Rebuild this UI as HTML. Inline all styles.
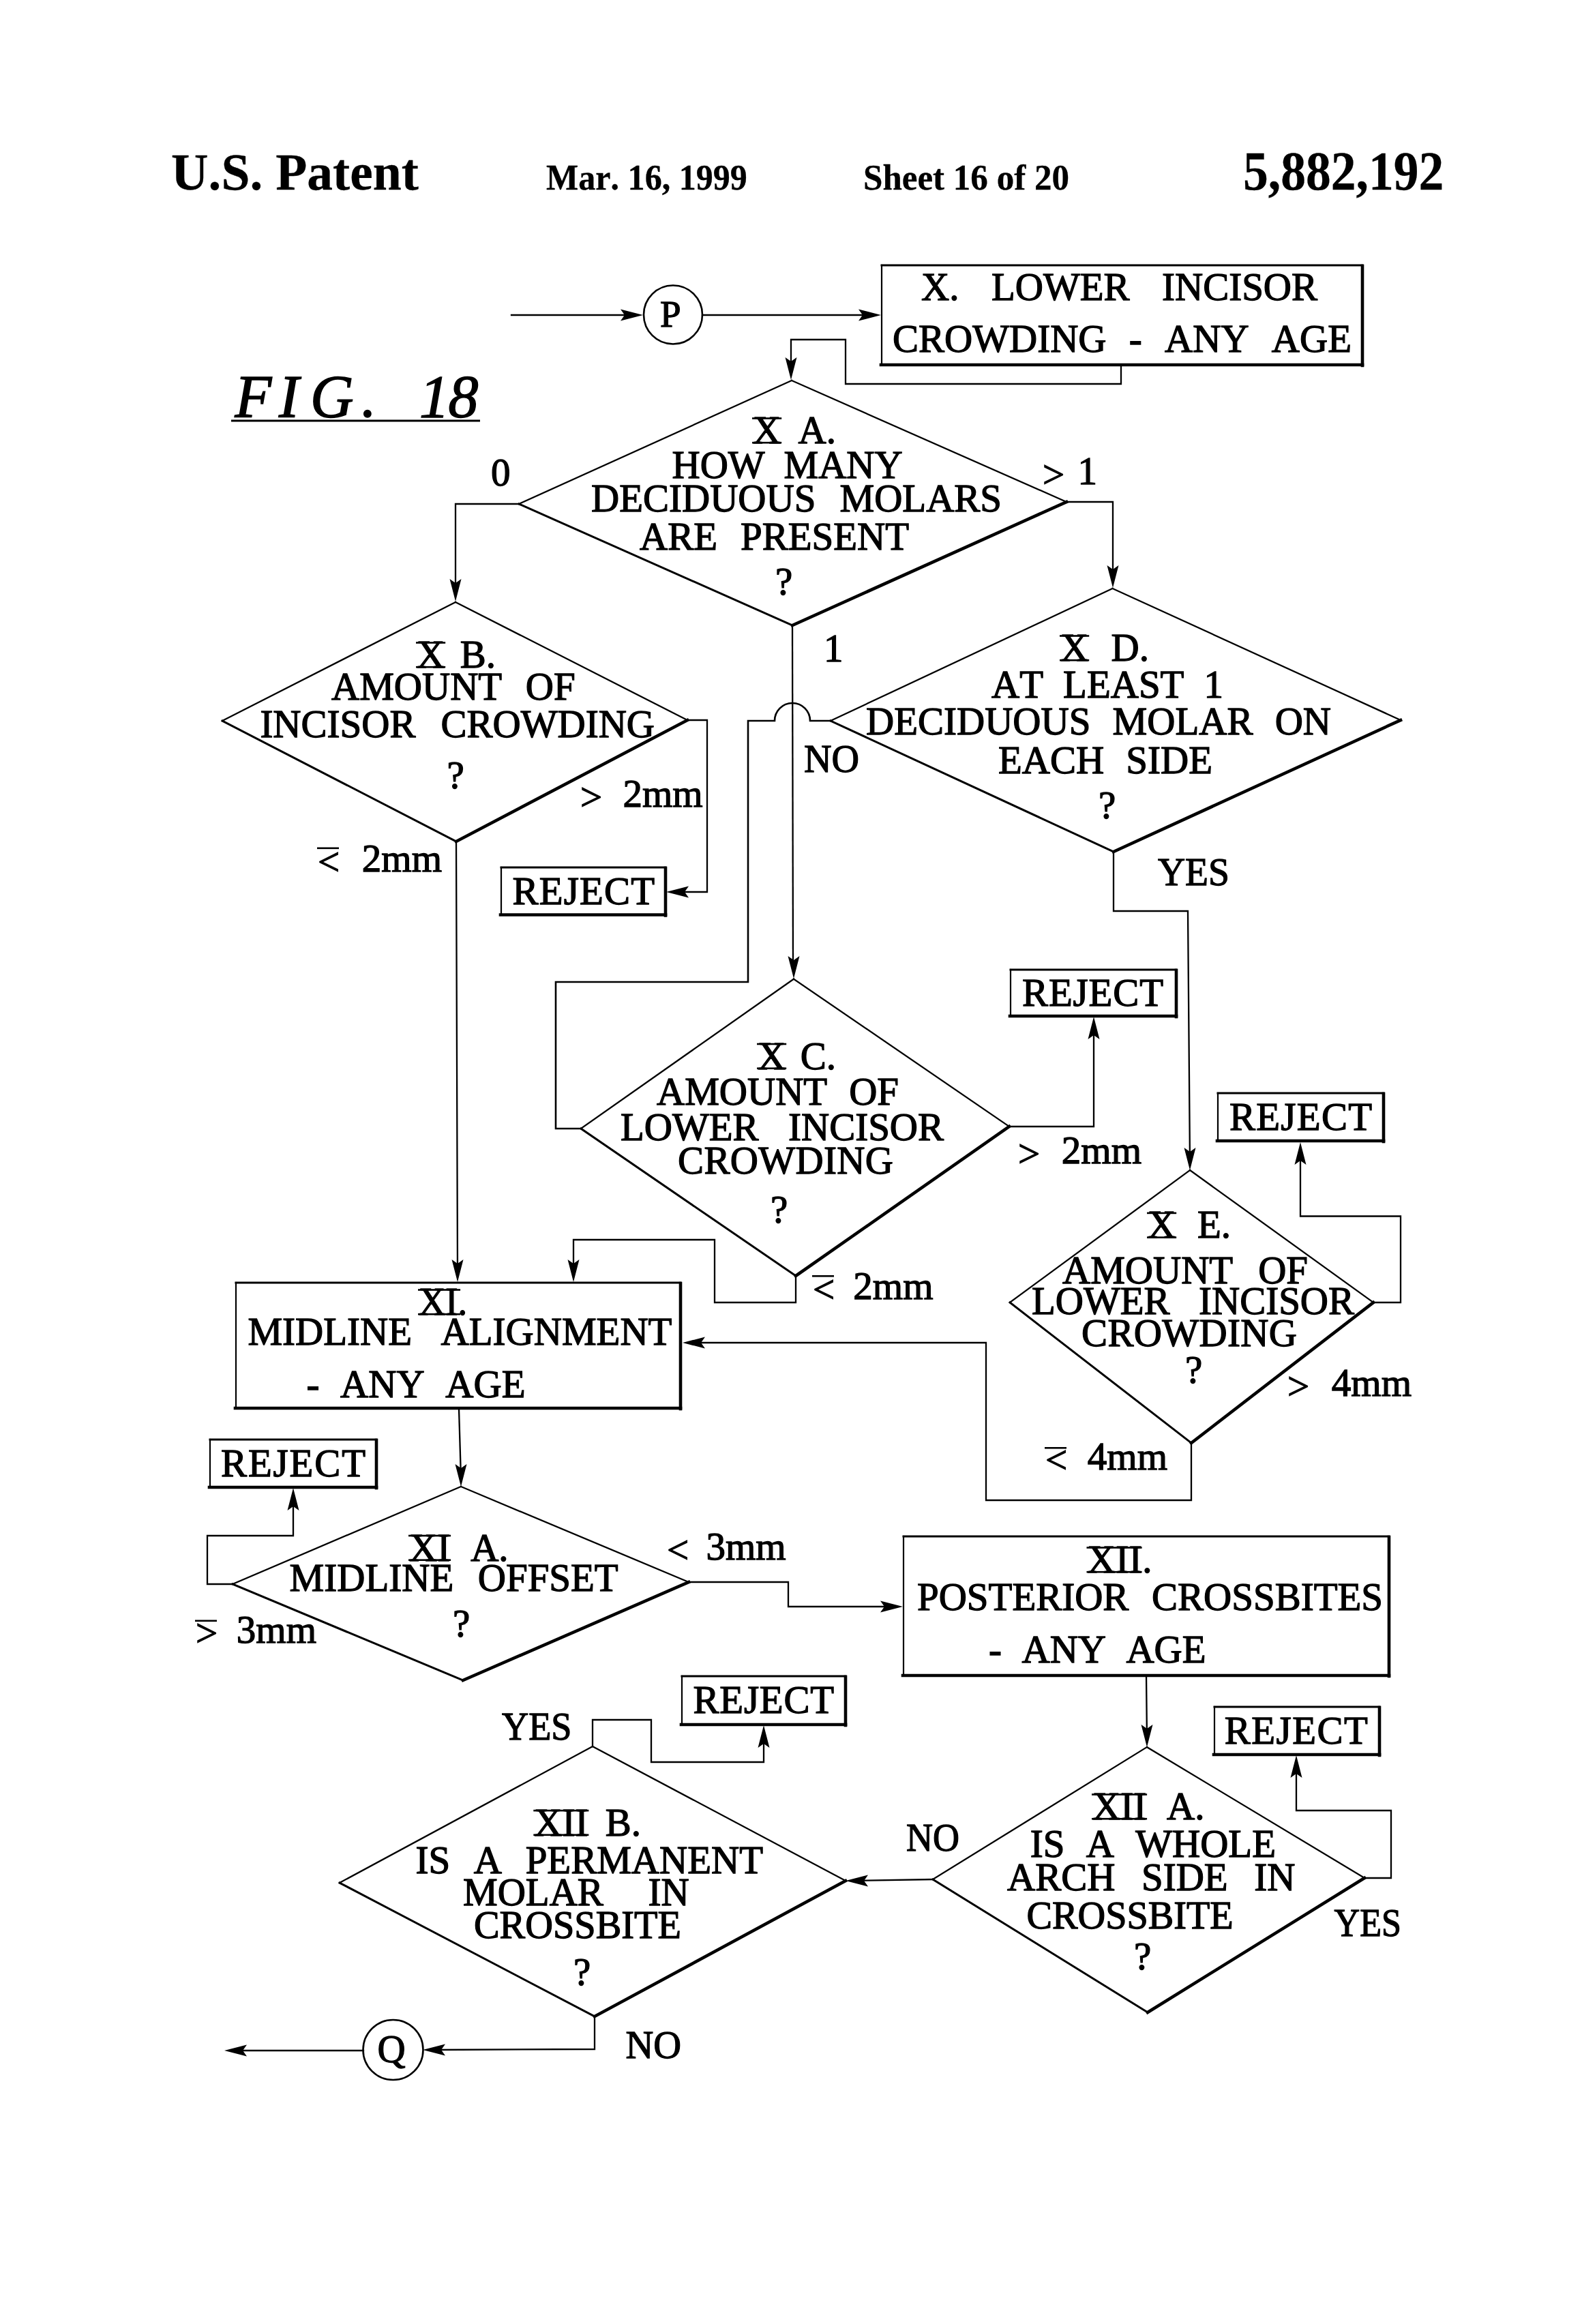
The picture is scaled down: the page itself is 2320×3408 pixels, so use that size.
<!DOCTYPE html>
<html><head><meta charset="utf-8"><style>
html,body{margin:0;padding:0;background:#fff;}
svg{display:block;}
path,circle{fill:none;stroke:#000;stroke-linecap:square;stroke-linejoin:miter;}
.f{fill:#000;stroke:none;}
text{fill:#000;stroke:#000;stroke-width:1.3px;font-family:"Liberation Serif",serif;font-kerning:none;}
.tb{font-weight:bold;stroke-width:0.3px;}
.ti{font-style:italic;}
</style></head><body>
<svg width="2320" height="3408" viewBox="0 0 2320 3408">
<rect width="2320" height="3408" fill="#fff"/>
<rect class="f" x="339" y="615.5" width="365" height="3"/>
<path d="M750.0 462.0 L930.0 462.0" stroke-width="2.3"/>
<polygon class="f" points="943.0,462.0 910.0,453.5 916.0,462.0 910.0,470.5"/>
<circle cx="987" cy="461.5" r="43" stroke-width="2.6"/>
<path d="M1030.0 462.0 L1280.0 462.0" stroke-width="2.3"/>
<polygon class="f" points="1292.0,462.0 1259.0,453.5 1265.0,462.0 1259.0,470.5"/>
<path d="M1293.0 389.0 L1998.0 389.0" stroke-width="3.0"/>
<path d="M1293.0 389.0 L1293.0 535.0" stroke-width="2.2"/>
<path d="M1292.0 535.0 L1998.0 535.0" stroke-width="4.6"/>
<path d="M1998.0 390.0 L1998.0 536.0" stroke-width="4.6"/>
<path d="M1644.0 535.0 L1644.0 563.0 L1240.0 563.0 L1240.0 498.0 L1160.0 498.0 L1160.0 540.0" stroke-width="2.3"/>
<polygon class="f" points="1160.0,557.0 1151.5,524.0 1160.0,530.0 1168.5,524.0"/>
<path d="M761.0 739.0 L1161.0 558.0" stroke-width="2.3"/>
<path d="M1161.0 558.0 L1564.0 736.0" stroke-width="2.3"/>
<path d="M761.0 739.0 L1162.0 917.0" stroke-width="3.0"/>
<path d="M1162.0 917.0 L1564.0 736.0" stroke-width="4.6"/>
<rect class="f" x="1103.0" y="612.2" width="43.2" height="2.6"/>
<rect class="f" x="1103.0" y="647.9" width="43.2" height="2.6"/>
<path d="M761.0 739.0 L668.0 739.0 L668.0 870.0" stroke-width="2.3"/>
<polygon class="f" points="668.0,882.0 659.5,849.0 668.0,855.0 676.5,849.0"/>
<path d="M1564.0 736.0 L1632.0 736.0 L1632.0 850.0" stroke-width="2.3"/>
<polygon class="f" points="1632.0,862.0 1623.5,829.0 1632.0,835.0 1640.5,829.0"/>
<path d="M326.0 1057.0 L668.0 883.0" stroke-width="2.3"/>
<path d="M668.0 883.0 L1008.0 1056.0" stroke-width="2.3"/>
<path d="M326.0 1057.0 L669.0 1234.0" stroke-width="3.0"/>
<path d="M669.0 1234.0 L1008.0 1056.0" stroke-width="4.6"/>
<rect class="f" x="610.0" y="941.2" width="43.2" height="2.6"/>
<rect class="f" x="610.0" y="976.9" width="43.2" height="2.6"/>
<rect class="f" x="465.0" y="1242.5" width="32.0" height="2.6"/>
<path d="M1008.0 1056.0 L1037.0 1056.0 L1037.0 1308.0 L990.0 1308.0" stroke-width="2.3"/>
<polygon class="f" points="977.0,1308.0 1010.0,1299.5 1004.0,1308.0 1010.0,1316.5"/>
<path d="M735.0 1272.0 L976.0 1272.0" stroke-width="3.0"/>
<path d="M735.0 1272.0 L735.0 1341.5" stroke-width="2.2"/>
<path d="M734.0 1341.5 L976.0 1341.5" stroke-width="4.6"/>
<path d="M976.0 1273.0 L976.0 1342.5" stroke-width="4.6"/>
<path d="M669.0 1234.0 L671.0 1868.0" stroke-width="2.3"/>
<polygon class="f" points="671.0,1880.0 662.5,1847.0 671.0,1853.0 679.5,1847.0"/>
<path d="M1218.0 1057.0 L1631.5 863.0" stroke-width="2.3"/>
<path d="M1631.5 863.0 L2054.0 1056.0" stroke-width="2.3"/>
<path d="M1218.0 1057.0 L1633.0 1249.0" stroke-width="3.0"/>
<path d="M1633.0 1249.0 L2054.0 1056.0" stroke-width="4.6"/>
<rect class="f" x="1554.0" y="931.2" width="43.2" height="2.6"/>
<rect class="f" x="1554.0" y="966.9" width="43.2" height="2.6"/>
<path d="M1218 1057 L1190 1057 L1188 1057 A26 26 0 0 0 1136 1057 L1097 1057 L1097 1440 L815 1440 L815 1655 L852 1655" stroke-width="2.6"/>
<path d="M1633.0 1249.0 L1633.0 1336.0 L1742.0 1336.0 L1745.0 1704.0" stroke-width="2.3"/>
<polygon class="f" points="1745.0,1716.0 1736.5,1683.0 1745.0,1689.0 1753.5,1683.0"/>
<path d="M1162.0 917.0 L1163.0 1423.0" stroke-width="2.3"/>
<polygon class="f" points="1164.0,1435.0 1155.5,1402.0 1164.0,1408.0 1172.5,1402.0"/>
<path d="M852.0 1655.0 L1164.0 1435.6" stroke-width="2.3"/>
<path d="M1164.0 1435.6 L1480.0 1652.0" stroke-width="2.3"/>
<path d="M852.0 1655.0 L1167.0 1871.0" stroke-width="3.0"/>
<path d="M1167.0 1871.0 L1480.0 1652.0" stroke-width="4.6"/>
<rect class="f" x="1110.0" y="1529.7" width="43.2" height="2.6"/>
<rect class="f" x="1110.0" y="1565.4" width="43.2" height="2.6"/>
<rect class="f" x="1191.0" y="1870.0" width="32.0" height="2.6"/>
<path d="M1480.0 1652.0 L1604.0 1652.0 L1604.0 1503.0" stroke-width="2.3"/>
<polygon class="f" points="1604.0,1491.0 1595.5,1524.0 1604.0,1518.0 1612.5,1524.0"/>
<path d="M1482.0 1422.0 L1725.0 1422.0" stroke-width="3.0"/>
<path d="M1482.0 1422.0 L1482.0 1490.0" stroke-width="2.2"/>
<path d="M1481.0 1490.0 L1725.0 1490.0" stroke-width="4.6"/>
<path d="M1725.0 1423.0 L1725.0 1491.0" stroke-width="4.6"/>
<path d="M1167.0 1871.0 L1167.0 1910.0 L1048.0 1910.0 L1048.0 1818.0 L841.0 1818.0 L841.0 1868.0" stroke-width="2.3"/>
<polygon class="f" points="841.0,1880.0 832.5,1847.0 841.0,1853.0 849.5,1847.0"/>
<path d="M1481.0 1910.0 L1745.0 1716.0" stroke-width="2.3"/>
<path d="M1745.0 1716.0 L2014.0 1910.0" stroke-width="2.3"/>
<path d="M1481.0 1910.0 L1747.0 2116.0" stroke-width="3.0"/>
<path d="M1747.0 2116.0 L2014.0 1910.0" stroke-width="4.6"/>
<rect class="f" x="1682.0" y="1777.6" width="43.2" height="2.6"/>
<rect class="f" x="1682.0" y="1813.3" width="43.2" height="2.6"/>
<rect class="f" x="1532.0" y="2122.0" width="32.0" height="2.6"/>
<path d="M2014.0 1910.0 L2054.0 1910.0 L2054.0 1783.5 L1907.0 1783.5 L1907.0 1687.0" stroke-width="2.3"/>
<polygon class="f" points="1907.0,1675.0 1898.5,1708.0 1907.0,1702.0 1915.5,1708.0"/>
<path d="M1786.0 1603.0 L2029.0 1603.0" stroke-width="3.0"/>
<path d="M1786.0 1603.0 L1786.0 1673.0" stroke-width="2.2"/>
<path d="M1785.0 1673.0 L2029.0 1673.0" stroke-width="4.6"/>
<path d="M2029.0 1604.0 L2029.0 1674.0" stroke-width="4.6"/>
<path d="M1747.0 2116.0 L1747.0 2200.0 L1446.0 2200.0 L1446.0 1969.0 L1013.0 1969.0" stroke-width="2.3"/>
<polygon class="f" points="1001.0,1969.0 1034.0,1960.5 1028.0,1969.0 1034.0,1977.5"/>
<path d="M346.0 1881.0 L998.0 1881.0" stroke-width="3.0"/>
<path d="M346.0 1881.0 L346.0 2065.0" stroke-width="2.2"/>
<path d="M345.0 2065.0 L998.0 2065.0" stroke-width="4.6"/>
<path d="M998.0 1882.0 L998.0 2066.0" stroke-width="4.6"/>
<rect class="f" x="613.0" y="1890.2" width="62.1" height="2.6"/>
<rect class="f" x="613.0" y="1925.9" width="62.1" height="2.6"/>
<path d="M673.0 2066.0 L676.0 2168.0" stroke-width="2.3"/>
<polygon class="f" points="676.0,2180.0 667.5,2147.0 676.0,2153.0 684.5,2147.0"/>
<path d="M341.0 2323.0 L676.0 2180.0" stroke-width="2.3"/>
<path d="M676.0 2180.0 L1010.0 2320.0" stroke-width="2.3"/>
<path d="M341.0 2323.0 L679.0 2464.0" stroke-width="3.0"/>
<path d="M679.0 2464.0 L1010.0 2320.0" stroke-width="4.6"/>
<rect class="f" x="599.0" y="2250.7" width="62.1" height="2.6"/>
<rect class="f" x="599.0" y="2286.4" width="62.1" height="2.6"/>
<rect class="f" x="286.0" y="2375.5" width="32.0" height="2.6"/>
<path d="M341.0 2323.0 L304.0 2323.0 L304.0 2252.0 L430.0 2252.0 L430.0 2194.0" stroke-width="2.3"/>
<polygon class="f" points="430.0,2182.0 421.5,2215.0 430.0,2209.0 438.5,2215.0"/>
<path d="M308.0 2111.0 L552.0 2111.0" stroke-width="3.0"/>
<path d="M308.0 2111.0 L308.0 2181.0" stroke-width="2.2"/>
<path d="M307.0 2181.0 L552.0 2181.0" stroke-width="4.6"/>
<path d="M552.0 2112.0 L552.0 2182.0" stroke-width="4.6"/>
<path d="M1010.0 2320.0 L1156.0 2320.0 L1156.0 2356.0 L1312.0 2356.0" stroke-width="2.3"/>
<polygon class="f" points="1324.0,2356.0 1291.0,2347.5 1297.0,2356.0 1291.0,2364.5"/>
<path d="M1325.0 2253.0 L2037.0 2253.0" stroke-width="3.0"/>
<path d="M1325.0 2253.0 L1325.0 2457.0" stroke-width="2.2"/>
<path d="M1324.0 2457.0 L2037.0 2457.0" stroke-width="4.6"/>
<path d="M2037.0 2254.0 L2037.0 2458.0" stroke-width="4.6"/>
<rect class="f" x="1593.5" y="2268.2" width="81.1" height="2.6"/>
<rect class="f" x="1593.5" y="2303.9" width="81.1" height="2.6"/>
<path d="M1681.0 2457.0 L1682.0 2550.0" stroke-width="2.3"/>
<polygon class="f" points="1682.0,2562.0 1673.5,2529.0 1682.0,2535.0 1690.5,2529.0"/>
<path d="M1368.0 2756.0 L1682.0 2562.0" stroke-width="2.3"/>
<path d="M1682.0 2562.0 L2001.0 2754.0" stroke-width="2.3"/>
<path d="M1368.0 2756.0 L1683.0 2951.0" stroke-width="3.0"/>
<path d="M1683.0 2951.0 L2001.0 2754.0" stroke-width="4.6"/>
<rect class="f" x="1601.0" y="2630.2" width="81.1" height="2.6"/>
<rect class="f" x="1601.0" y="2665.9" width="81.1" height="2.6"/>
<path d="M2001.0 2754.0 L2040.0 2754.0 L2040.0 2655.0 L1901.0 2655.0 L1901.0 2586.0" stroke-width="2.3"/>
<polygon class="f" points="1901.0,2574.0 1892.5,2607.0 1901.0,2601.0 1909.5,2607.0"/>
<path d="M1781.0 2503.0 L2023.0 2503.0" stroke-width="3.0"/>
<path d="M1781.0 2503.0 L1781.0 2573.0" stroke-width="2.2"/>
<path d="M1780.0 2573.0 L2023.0 2573.0" stroke-width="4.6"/>
<path d="M2023.0 2504.0 L2023.0 2574.0" stroke-width="4.6"/>
<path d="M1368.0 2756.0 L1252.0 2758.0" stroke-width="2.3"/>
<polygon class="f" points="1240.0,2758.0 1273.0,2749.5 1267.0,2758.0 1273.0,2766.5"/>
<path d="M498.0 2761.0 L869.0 2561.0" stroke-width="2.3"/>
<path d="M869.0 2561.0 L1240.0 2758.0" stroke-width="2.3"/>
<path d="M498.0 2761.0 L872.0 2957.0" stroke-width="3.0"/>
<path d="M872.0 2957.0 L1240.0 2758.0" stroke-width="4.6"/>
<rect class="f" x="782.3" y="2653.8" width="81.1" height="2.6"/>
<rect class="f" x="782.3" y="2689.5" width="81.1" height="2.6"/>
<path d="M869.0 2561.0 L869.0 2522.0 L955.0 2522.0 L955.0 2584.0 L1120.0 2584.0 L1120.0 2542.0" stroke-width="2.3"/>
<polygon class="f" points="1120.0,2530.0 1111.5,2563.0 1120.0,2557.0 1128.5,2563.0"/>
<path d="M1000.0 2458.0 L1240.0 2458.0" stroke-width="3.0"/>
<path d="M1000.0 2458.0 L1000.0 2529.0" stroke-width="2.2"/>
<path d="M999.0 2529.0 L1240.0 2529.0" stroke-width="4.6"/>
<path d="M1240.0 2459.0 L1240.0 2530.0" stroke-width="4.6"/>
<path d="M872.0 2957.0 L872.0 3005.0 L632.0 3006.0" stroke-width="2.3"/>
<polygon class="f" points="620.0,3006.0 653.0,2997.5 647.0,3006.0 653.0,3014.5"/>
<circle cx="576.5" cy="3006" r="44" stroke-width="2.6"/>
<path d="M533.0 3007.0 L341.0 3007.0" stroke-width="2.3"/>
<polygon class="f" points="329.0,3007.0 362.0,2998.5 356.0,3007.0 362.0,3015.5"/>
<text class="tb" x="251.0" y="278.0" font-size="77.0" transform="translate(251.00 0.00) scale(0.9811 1) translate(-251.00 0.00)">U.S. Patent</text>
<text class="tb" x="801.0" y="278.5" font-size="52.0" transform="translate(801.00 0.00) scale(0.9635 1) translate(-801.00 0.00)">Mar. 16, 1999</text>
<text class="tb" x="1266.0" y="278.5" font-size="52.0" transform="translate(1266.00 0.00) scale(0.9817 1) translate(-1266.00 0.00)">Sheet 16 of 20</text>
<text class="tb" x="1823.0" y="278.0" font-size="80.0" transform="translate(1823.00 0.00) scale(0.9203 1) translate(-1823.00 0.00)">5,882,192</text>
<text class="ti" x="344.5 408.9 455.0 530.0 615.0 657.5" y="611.0" font-size="88.0" style="stroke-width:1.50px">FIG.18</text>
<text class="tr" x="968.0" y="478.7" font-size="55.0">P</text>
<text class="tr" x="1351.0" y="440.0" font-size="57.0" style="word-spacing:33.23px">X. LOWER INCISOR</text>
<text class="tr" x="1309.0" y="516.0" font-size="57.0" style="word-spacing:19.06px">CROWDING - ANY AGE</text>
<text class="tr" x="1104.0" y="650.0" font-size="57.0" style="word-spacing:11.19px">X A.</text>
<text class="tr" x="985.5" y="701.0" font-size="57.0" style="word-spacing:13.64px">HOW MANY</text>
<text class="tr" x="867.0" y="750.0" font-size="57.0" style="word-spacing:20.88px">DECIDUOUS MOLARS</text>
<text class="tr" x="938.0" y="806.0" font-size="57.0" style="word-spacing:19.71px">ARE PRESENT</text>
<text class="tr" x="1137.0" y="872.0" font-size="57.0">?</text>
<text class="tr" x="720.0" y="712.0" font-size="57.0">0</text>
<text class="tr" x="1529.0" y="710.0" font-size="57.0" style="word-spacing:5.10px"><tspan dy="5">&gt;</tspan><tspan dy="-5"> 1</tspan></text>
<text class="tr" x="611.0" y="979.0" font-size="57.0" style="word-spacing:8.33px">X B.</text>
<text class="tr" x="486.0" y="1026.0" font-size="57.0" style="word-spacing:20.33px">AMOUNT OF</text>
<text class="tr" x="381.4" y="1081.0" font-size="57.0" style="word-spacing:22.85px">INCISOR CROWDING</text>
<text class="tr" x="655.5" y="1156.0" font-size="57.0">?</text>
<text class="tr" x="466.0" y="1278.0" font-size="57.0" style="word-spacing:18.41px"><tspan dy="5">&lt;</tspan><tspan dy="-5"> 2mm</tspan></text>
<text class="tr" x="851.0" y="1183.0" font-size="57.0" style="word-spacing:16.11px"><tspan dy="5">&gt;</tspan><tspan dy="-5"> 2mm</tspan></text>
<text class="tr" x="751.6" y="1326.0" font-size="57.0" style="letter-spacing:1.14px">REJECT</text>
<text class="tr" x="1555.0" y="969.0" font-size="57.0" style="word-spacing:19.19px">X D.</text>
<text class="tr" x="1454.0" y="1022.7" font-size="57.0" style="word-spacing:14.85px">AT LEAST 1</text>
<text class="tr" x="1270.0" y="1077.0" font-size="57.0" style="word-spacing:17.98px">DECIDUOUS MOLAR ON</text>
<text class="tr" x="1464.0" y="1134.0" font-size="57.0" style="word-spacing:17.94px">EACH SIDE</text>
<text class="tr" x="1611.0" y="1200.0" font-size="57.0">?</text>
<text class="tr" x="1208.0" y="970.0" font-size="57.0">1</text>
<text class="tr" x="1179.0" y="1132.0" font-size="57.0" transform="translate(1179.00 0.00) scale(0.9841 1) translate(-1179.00 0.00)">NO</text>
<text class="tr" x="1698.0" y="1298.0" font-size="57.0" transform="translate(1698.00 0.00) scale(0.9752 1) translate(-1698.00 0.00)">YES</text>
<text class="tr" x="1111.0" y="1567.5" font-size="57.0" style="word-spacing:7.33px">X C.</text>
<text class="tr" x="963.0" y="1620.0" font-size="57.0" style="word-spacing:17.73px">AMOUNT OF</text>
<text class="tr" x="910.0" y="1671.6" font-size="57.0" style="word-spacing:29.12px">LOWER INCISOR</text>
<text class="tr" x="994.0" y="1721.0" font-size="57.0" style="letter-spacing:0.36px">CROWDING</text>
<text class="tr" x="1130.0" y="1793.0" font-size="57.0">?</text>
<text class="tr" x="1493.0" y="1706.0" font-size="57.0" style="word-spacing:17.41px"><tspan dy="5">&gt;</tspan><tspan dy="-5"> 2mm</tspan></text>
<text class="tr" x="1192.0" y="1905.0" font-size="57.0" style="word-spacing:12.91px"><tspan dy="5">&lt;</tspan><tspan dy="-5"> 2mm</tspan></text>
<text class="tr" x="1499.0" y="1474.6" font-size="57.0" style="letter-spacing:0.86px">REJECT</text>
<text class="tr" x="1683.0" y="1815.4" font-size="57.0" style="word-spacing:17.52px">X E.</text>
<text class="tr" x="1558.0" y="1882.0" font-size="57.0" style="word-spacing:22.73px">AMOUNT OF</text>
<text class="tr" x="1513.0" y="1927.0" font-size="57.0" style="word-spacing:28.12px">LOWER INCISOR</text>
<text class="tr" x="1586.0" y="1974.0" font-size="57.0" style="letter-spacing:0.36px">CROWDING</text>
<text class="tr" x="1738.0" y="2028.0" font-size="57.0">?</text>
<text class="tr" x="1533.0" y="2155.0" font-size="57.0" style="word-spacing:15.41px"><tspan dy="5">&lt;</tspan><tspan dy="-5"> 4mm</tspan></text>
<text class="tr" x="1888.0" y="2047.0" font-size="57.0" style="word-spacing:18.41px"><tspan dy="5">&gt;</tspan><tspan dy="-5"> 4mm</tspan></text>
<text class="tr" x="1803.0" y="1657.4" font-size="57.0" style="letter-spacing:1.26px">REJECT</text>
<text class="tr" x="614.0" y="1928.0" font-size="57.0" transform="translate(614.00 0.00) scale(0.9545 1) translate(-614.00 0.00)">XI.</text>
<text class="tr" x="363.4" y="1972.0" font-size="57.0" style="word-spacing:28.35px">MIDLINE ALIGNMENT</text>
<text class="tr" x="449.4" y="2049.0" font-size="57.0" style="word-spacing:16.48px">- ANY AGE</text>
<text class="tr" x="600.0" y="2288.5" font-size="57.0" style="word-spacing:15.81px">XI A.</text>
<text class="tr" x="424.6" y="2333.3" font-size="57.0" style="word-spacing:21.31px">MIDLINE OFFSET</text>
<text class="tr" x="664.0" y="2400.0" font-size="57.0">?</text>
<text class="tr" x="287.0" y="2408.5" font-size="57.0" style="word-spacing:13.41px"><tspan dy="5">&gt;</tspan><tspan dy="-5"> 3mm</tspan></text>
<text class="tr" x="978.0" y="2287.0" font-size="57.0" style="word-spacing:11.01px"><tspan dy="5">&lt;</tspan><tspan dy="-5"> 3mm</tspan></text>
<text class="tr" x="324.0" y="2164.7" font-size="57.0" style="letter-spacing:1.86px">REJECT</text>
<text class="tr" x="1594.5" y="2306.0" font-size="57.0" style="letter-spacing:0.58px">XII.</text>
<text class="tr" x="1345.0" y="2360.8" font-size="57.0" style="word-spacing:19.41px">POSTERIOR CROSSBITES</text>
<text class="tr" x="1450.0" y="2437.5" font-size="57.0" style="word-spacing:15.23px">- ANY AGE</text>
<text class="tr" x="1602.0" y="2668.0" font-size="57.0" style="word-spacing:15.63px">XII A.</text>
<text class="tr" x="1510.7" y="2722.5" font-size="57.0" style="word-spacing:17.10px">IS A WHOLE</text>
<text class="tr" x="1477.0" y="2771.8" font-size="57.0" style="word-spacing:24.40px">ARCH SIDE IN</text>
<text class="tr" x="1505.5" y="2827.8" font-size="57.0" transform="translate(1505.50 0.00) scale(0.9872 1) translate(-1505.50 0.00)">CROSSBITE</text>
<text class="tr" x="1663.0" y="2888.0" font-size="57.0">?</text>
<text class="tr" x="1329.0" y="2713.7" font-size="57.0" transform="translate(1329.00 0.00) scale(0.9477 1) translate(-1329.00 0.00)">NO</text>
<text class="tr" x="1956.5" y="2839.0" font-size="57.0" transform="translate(1956.50 0.00) scale(0.9148 1) translate(-1956.50 0.00)">YES</text>
<text class="tr" x="1795.8" y="2556.6" font-size="57.0" style="letter-spacing:1.46px">REJECT</text>
<text class="tr" x="783.3" y="2691.6" font-size="57.0" style="word-spacing:11.07px">XII B.</text>
<text class="tr" x="609.5" y="2746.5" font-size="57.0" style="word-spacing:20.39px">IS A PERMANENT</text>
<text class="tr" x="679.0" y="2793.8" font-size="57.0" style="word-spacing:51.43px">MOLAR IN</text>
<text class="tr" x="695.0" y="2842.5" font-size="57.0" transform="translate(695.00 0.00) scale(0.9892 1) translate(-695.00 0.00)">CROSSBITE</text>
<text class="tr" x="841.0" y="2910.6" font-size="57.0">?</text>
<text class="tr" x="736.0" y="2550.8" font-size="57.0" transform="translate(736.00 0.00) scale(0.9510 1) translate(-736.00 0.00)">YES</text>
<text class="tr" x="917.5" y="3018.3" font-size="57.0" transform="translate(917.50 0.00) scale(0.9902 1) translate(-917.50 0.00)">NO</text>
<text class="tr" x="1016.6" y="2512.0" font-size="57.0" style="letter-spacing:0.74px">REJECT</text>
<text class="tr" x="553.4" y="3023.5" font-size="57.0">Q</text>
</svg></body></html>
